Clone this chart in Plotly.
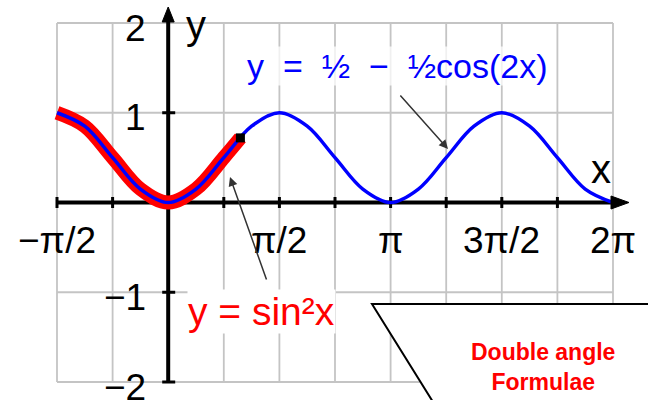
import numpy as np
import plotly.graph_objects as go

PI = np.pi

# ---------------- data ----------------
# x positions in eighths of pi, y = 1/2 - 1/2 cos(2x) read at those points
x_eighths = list(range(-4, 17))
blue_y = [1.0, 0.85, 0.5, 0.15, 0.0, 0.15, 0.5, 0.85,
          1.0, 0.85, 0.5, 0.15, 0.0, 0.15, 0.5, 0.85,
          1.0, 0.85, 0.5, 0.15, 0.0]
# y = sin^2 x, drawn from -pi/2 to about x = 1.02
red_x = [-PI / 2, -3 * PI / 8, -PI / 4, -PI / 8, 0.0, PI / 8, PI / 4, 1.02]
red_y = [1.0, 0.85, 0.5, 0.15, 0.0, 0.15, 0.5, 0.72]
end_x = [1.02]
end_y = [0.72]

x_tick_vals = [-PI / 2, PI / 2, PI, 3 * PI / 2, 2 * PI]
x_tick_text = ["−π/2", "π/2", "π", "3π/2", "2π"]
x_minor_ticks = [k * PI / 4 for k in range(-2, 9) if k != 0]
y_tick_vals = [2, 1, -1, -2]
y_tick_text = ["2", "1", "−1", "−2"]
grid_x = [k * PI / 4 for k in range(-2, 9)]
grid_y = [-2, -1, 0, 1, 2]

blue_x = [k * PI / 8 for k in x_eighths]

# ---------------- geometry (figure pixels -> axis ranges) ----------------
W, H = 648, 400
SX = 556 / (2.5 * PI)          # px per radian
XR0 = -PI / 2 - 57 / SX
XR1 = XR0 + W / SX
SY = 359 / 4.0                 # px per unit
YR1 = 2 + 23 / SY
YR0 = YR1 - H / SY


def X(px):
    return XR0 + px / SX


def Y(py):
    return YR1 - py / SY


def PX(px):
    return px / W


def PY(py):
    return 1 - py / H


FONT = "Liberation Sans, Arial, sans-serif"
GRID = "#c4c4c4"

fig = go.Figure()

fig.add_trace(go.Scatter(
    x=red_x, y=red_y, mode="lines",
    line=dict(color="#ff0000", width=14, shape="spline"),
    hoverinfo="skip"))
fig.add_trace(go.Scatter(
    x=blue_x, y=blue_y, mode="lines",
    line=dict(color="#0000ff", width=3.5, shape="spline"),
    hoverinfo="skip"))
fig.add_trace(go.Scatter(
    x=end_x, y=end_y, mode="markers",
    marker=dict(symbol="square", size=9, color="black"),
    hoverinfo="skip"))

shapes = []
# grid
for gx in grid_x:
    shapes.append(dict(type="line", xref="x", yref="y", x0=gx, x1=gx,
                       y0=-2, y1=2, line=dict(color=GRID, width=1.8),
                       layer="below"))
for gy in grid_y:
    shapes.append(dict(type="line", xref="x", yref="y", x0=-PI / 2, x1=2 * PI,
                       y0=gy, y1=gy, line=dict(color=GRID, width=1.8),
                       layer="below"))
# axes
shapes.append(dict(type="line", xref="x", yref="y", x0=-PI / 2, x1=X(616),
                   y0=0, y1=0, line=dict(color="black", width=4), layer="below"))
shapes.append(dict(type="line", xref="x", yref="y", x0=0, x1=0,
                   y0=-2, y1=Y(18), line=dict(color="black", width=4), layer="below"))
# arrowheads
shapes.append(dict(type="path", xref="x", yref="y",
                   path=f"M {X(629)},{0} L {X(611)},{Y(196)} L {X(611)},{Y(209)} Z",
                   fillcolor="black", line=dict(color="black", width=1), layer="above"))
x0px = 57 + 2 * 556 / 10
shapes.append(dict(type="path", xref="x", yref="y",
                   path=f"M 0,{Y(7)} L {X(x0px - 6)},{Y(22)} L {X(x0px + 6)},{Y(22)} Z",
                   fillcolor="black", line=dict(color="black", width=1), layer="above"))
# tick marks
for tx in x_minor_ticks:
    shapes.append(dict(type="line", xref="x", yref="y", x0=tx, x1=tx,
                       y0=-5.5 / SY, y1=5.5 / SY, line=dict(color="black", width=3),
                       layer="below"))
for ty in y_tick_vals:
    if ty == 2:
        continue
    shapes.append(dict(type="line", xref="x", yref="y", x0=-6 / SX, x1=7 / SX,
                       y0=ty, y1=ty, line=dict(color="black", width=3),
                       layer="below"))
# callout box
shapes.append(dict(type="path", xref="paper", yref="paper",
                   path=f"M {PX(372)},{PY(304)} L {PX(660)},{PY(304)} L {PX(660)},{PY(410)} L {PX(438)},{PY(410)} Z",
                   fillcolor="white", line=dict(color="black", width=2), layer="above"))

ann = []
for v, t in zip(x_tick_vals, x_tick_text):
    ann.append(dict(x=v, y=0, xref="x", yref="y", yshift=-37.5, text=t,
                    showarrow=False, xanchor="center", yanchor="middle",
                    font=dict(family=FONT, size=37, color="black")))
for v, t in zip(y_tick_vals, y_tick_text):
    ann.append(dict(x=PX(148), y=v, xref="paper", yref="y", yshift=-5, text=t,
                    showarrow=False, xanchor="right", yanchor="middle",
                    font=dict(family=FONT, size=37, color="black")))
# axis letters
ann.append(dict(x=PX(184), y=PY(25), xref="paper", yref="paper", text="y",
                showarrow=False, xanchor="left", yanchor="middle",
                font=dict(family=FONT, size=40, color="black")))
ann.append(dict(x=PX(601), y=PY(169), xref="paper", yref="paper", text="x",
                showarrow=False, xanchor="center", yanchor="middle",
                font=dict(family=FONT, size=40, color="black")))
# curve labels
ann.append(dict(x=PX(397), y=PY(66), xref="paper", yref="paper",
                text="y\u00a0\u00a0=\u00a0\u00a0½\u00a0\u00a0−\u00a0\u00a0½cos(2x)",
                showarrow=False, xanchor="center", yanchor="middle",
                bgcolor="rgba(255,255,255,0.75)", borderpad=0,
                font=dict(family=FONT, size=34, color="#0000ff")))
ann.append(dict(x=PX(187), y=PY(311), xref="paper", yref="paper",
                text="y = sin²x",
                showarrow=False, xanchor="left", yanchor="middle",
                bgcolor="white", borderpad=0,
                font=dict(family=FONT, size=39, color="#ff0000")))
# pointer arrows
ann.append(dict(x=X(448), y=Y(149), xref="x", yref="y",
                ax=X(399), ay=Y(94), axref="x", ayref="y", text="",
                showarrow=True, arrowhead=2, arrowsize=1.2, arrowwidth=1.5,
                arrowcolor="#333333", standoff=0))
ann.append(dict(x=X(230), y=Y(177), xref="x", yref="y",
                ax=X(267), ay=Y(281), axref="x", ayref="y", text="",
                showarrow=True, arrowhead=2, arrowsize=1.2, arrowwidth=1.5,
                arrowcolor="#333333", standoff=0))
# callout text
ann.append(dict(x=PX(543), y=PY(367), xref="paper", yref="paper",
                text="<b>Double angle<br>Formulae</b>",
                showarrow=False, xanchor="center", yanchor="middle",
                font=dict(family=FONT, size=23, color="#ff0000")))

fig.update_layout(
    width=W, height=H,
    margin=dict(l=0, r=0, t=0, b=0),
    paper_bgcolor="white", plot_bgcolor="white",
    showlegend=False,
    xaxis=dict(range=[XR0, XR1], visible=False, fixedrange=True),
    yaxis=dict(range=[YR0, YR1], visible=False, fixedrange=True),
    shapes=shapes, annotations=ann,
)

fig.write_html(
    "out.html",
    config={"displayModeBar": False},
    post_script="document.body.style.margin='0';document.body.style.overflow='hidden';",
)
